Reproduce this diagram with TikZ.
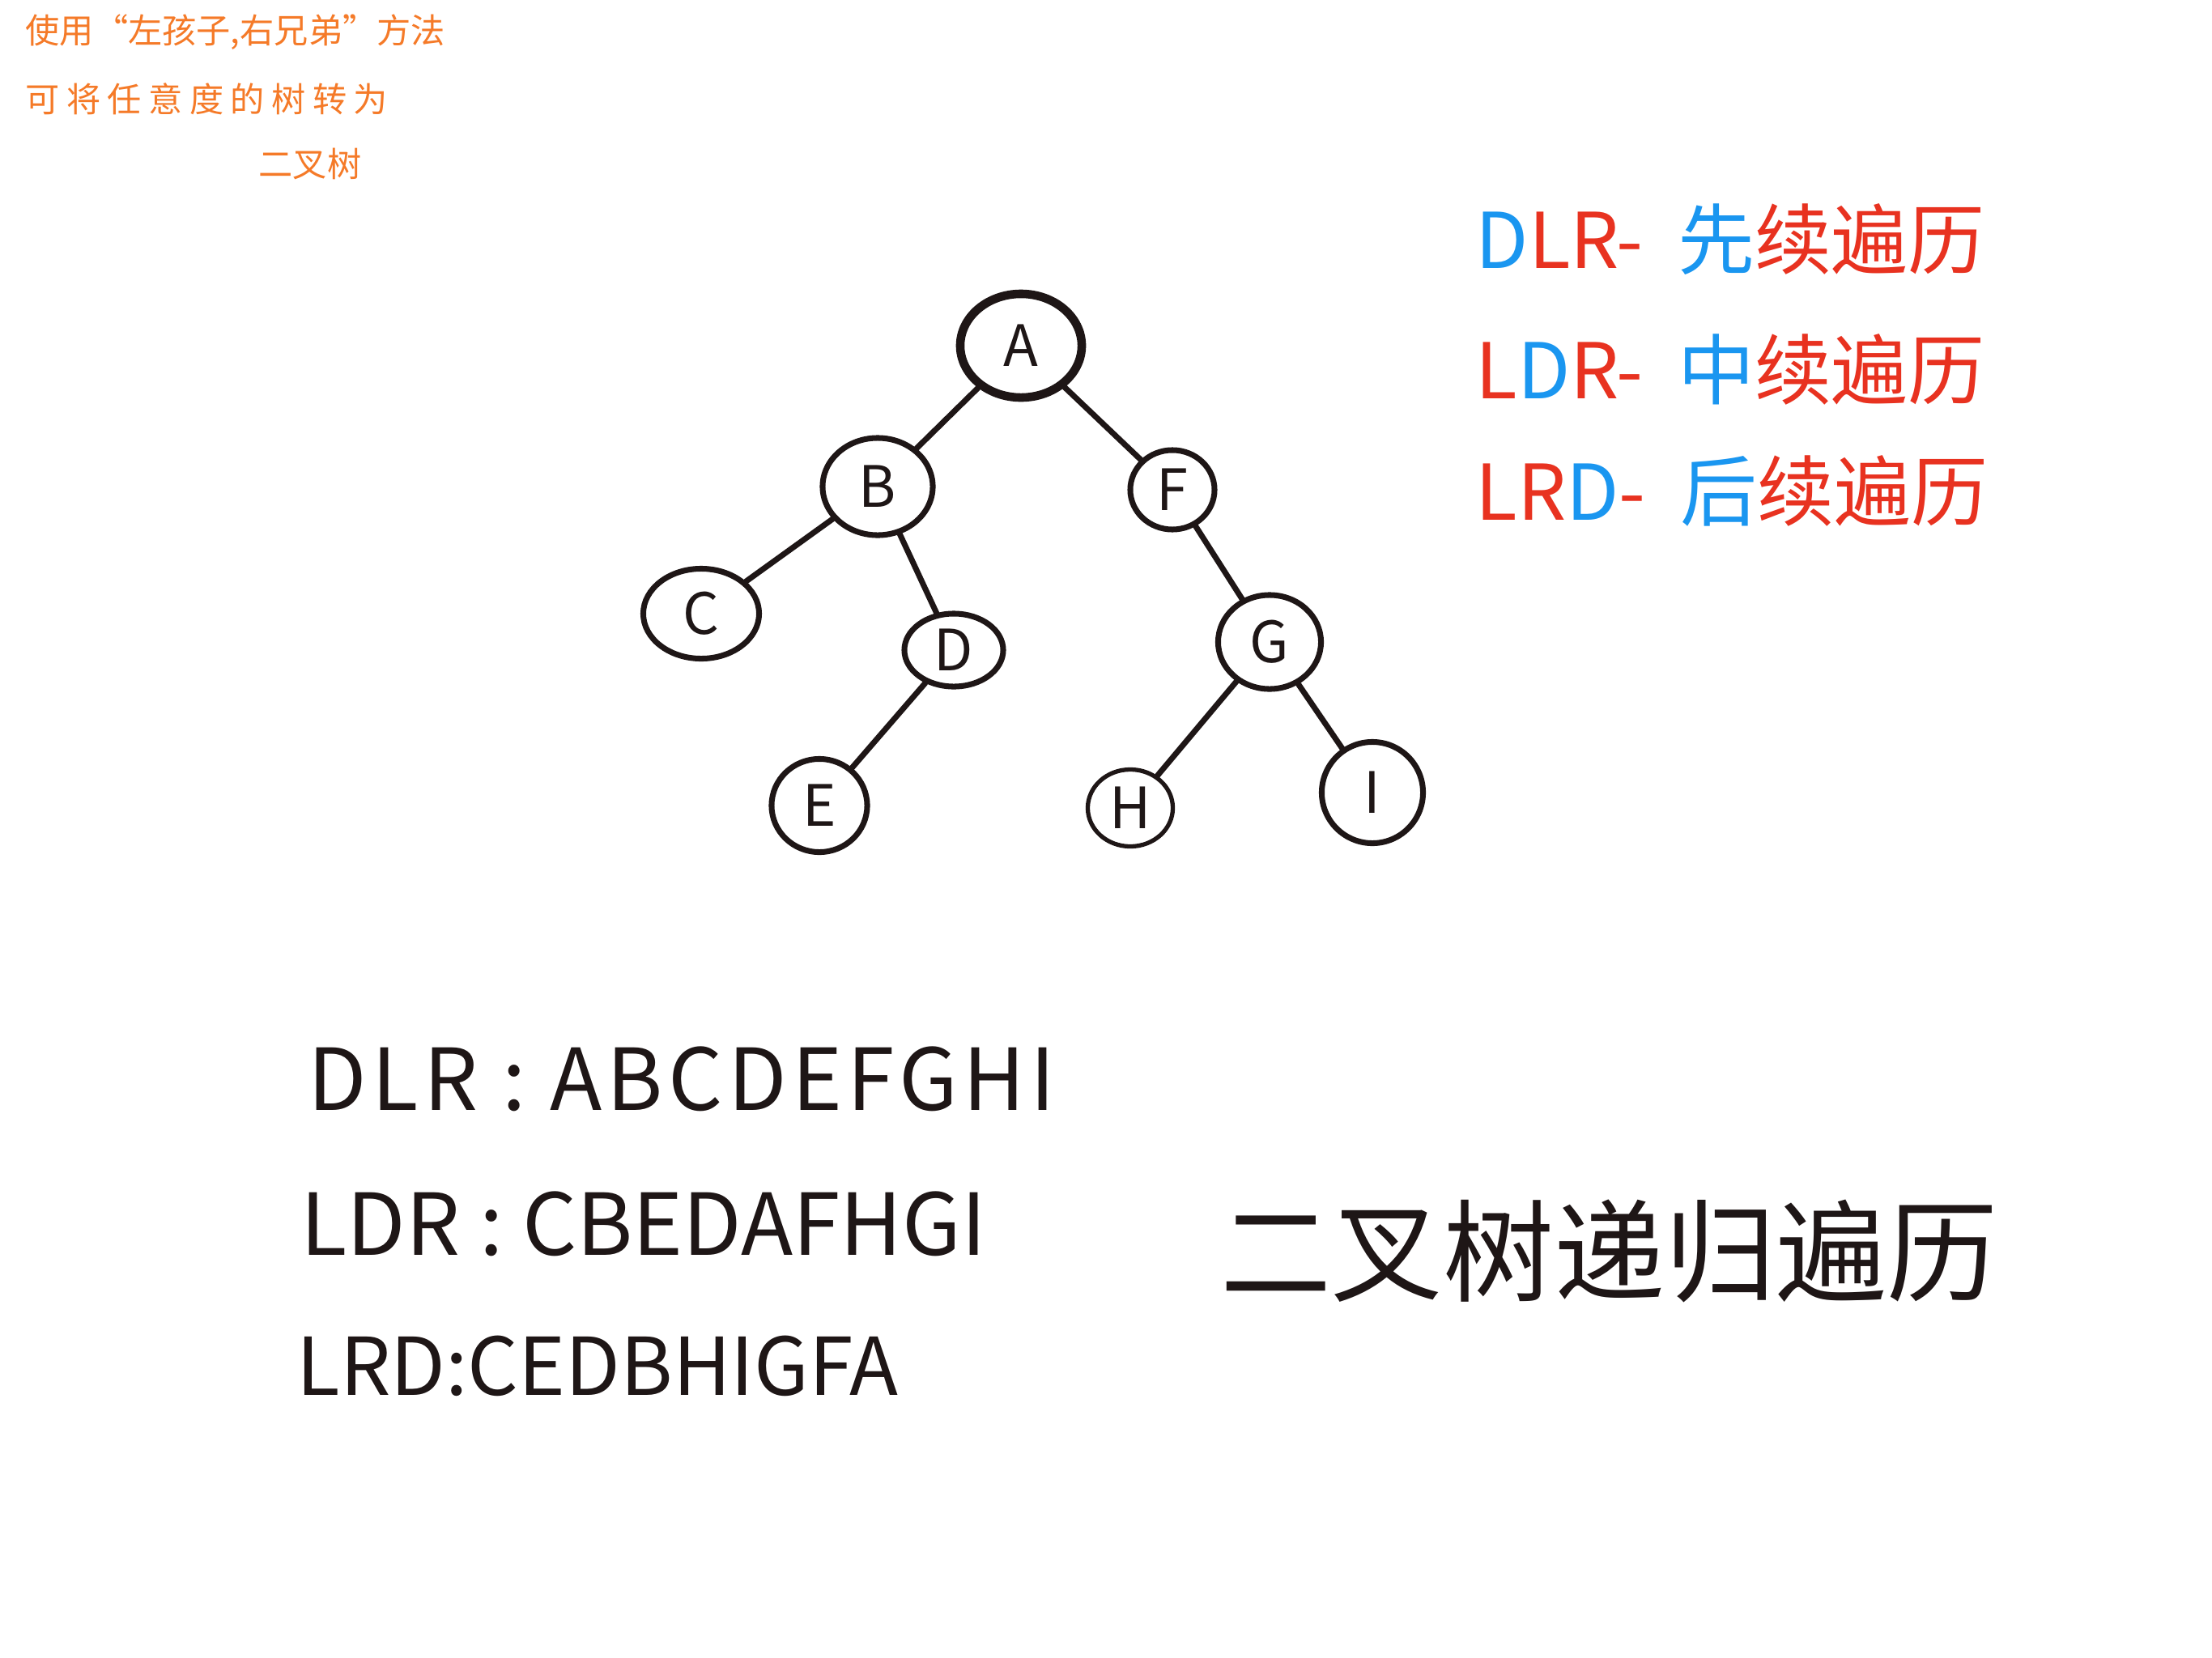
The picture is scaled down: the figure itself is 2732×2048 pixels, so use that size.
\documentclass[tikz,border=0pt]{standalone}
\usepackage{fontspec}
\setmainfont{Noto Sans CJK SC}
\usepackage{tikz}
\usetikzlibrary{shapes.geometric,positioning}

\definecolor{ink}{RGB}{30,22,22}
\definecolor{penorange}{RGB}{245,122,40}
\definecolor{penblue}{RGB}{26,150,240}
\definecolor{penred}{RGB}{232,50,32}

\begin{document}
\begin{tikzpicture}[
    x=0.01cm, y=-0.01cm,
    vertex/.style={draw=ink, ellipse, line width=2pt, inner sep=0pt, text=ink, font=\fontsize{20}{20}\selectfont},
    edge/.style={draw=ink, line width=2pt, line cap=round},
    note/.style={text=penorange, anchor=west, inner sep=0pt, font=\fontsize{12}{12}\selectfont},
    order/.style={anchor=west, inner sep=0pt, font=\fontsize{27}{27}\selectfont},
    walk/.style={text=ink, anchor=west, inner sep=0pt, font=\fontsize{30}{30}\selectfont}
]
    \useasboundingbox[fill=white] (0,0) rectangle (2732,2048);

    % note in the top left corner
    \node[note] (note1) at (31,40) {使用“左孩子,右兄弟”方法};
    \node[note, font=\fontsize{12}{12}\selectfont\addfontfeature{LetterSpace=20}] (note2) at (31,122) {可将任意度的树转为};
    \node[note] (note3) at (319,202) {二叉树};

    % the tree
    \node[vertex, line width=3pt, minimum width=1.5cm, minimum height=1.28cm] (a) at (1261,427) {A};
    \node[vertex, minimum width=1.36cm, minimum height=1.2cm] (b) at (1084,601) {B};
    \node[vertex, minimum width=1.04cm, minimum height=0.98cm] (f) at (1448,605) {F};
    \node[vertex, minimum width=1.43cm, minimum height=1.11cm] (c) at (866,758) {C};
    \node[vertex, minimum width=1.22cm, minimum height=0.9cm] (d) at (1178,803) {D};
    \node[vertex, minimum width=1.27cm, minimum height=1.16cm] (g) at (1568,793) {G};
    \node[vertex, minimum width=1.18cm, minimum height=1.15cm] (e) at (1012,995) {E};
    \node[vertex, line width=1.5pt, minimum width=1.05cm, minimum height=0.95cm] (h) at (1396,998) {H};
    \node[vertex, minimum width=1.25cm, minimum height=1.25cm] (i) at (1695,979) {I};

    \draw[edge] (a) -- (b);
    \draw[edge] (a) -- (f);
    \draw[edge] (b) -- (c);
    \draw[edge] (b) -- (d);
    \draw[edge] (d) -- (e);
    \draw[edge] (f) -- (g);
    \draw[edge] (g) -- (h);
    \draw[edge] (g) -- (i);

    % traversal names
    \node[order] (dlr) at (1822,296) {\color{penblue}D\color{penred}LR-~ \color{penblue}先\color{penred}续遍历};
    \node[order] (ldr) at (1822,456) {\color{penred}L\color{penblue}D\color{penred}R-~ \color{penblue}中\color{penred}续遍历};
    \node[order] (lrd) at (1822,606) {\color{penred}LR\color{penblue}D\color{penred}-~ \color{penblue}后\color{penred}续遍历};

    % traversal results
    \node[walk, font=\fontsize{30}{30}\selectfont\addfontfeature{LetterSpace=6}] (dlrwalk) at (380,1333) {DLR : ABCDEFGHI};
    \node[walk] (ldrwalk) at (371,1512) {LDR : CBEDAFHGI};
    \node[walk, font=\fontsize{28}{28}\selectfont] (lrdwalk) at (366,1687) {LRD:CEDBHIGFA};

    \node[text=ink, anchor=west, inner sep=0pt, font=\fontsize{39}{39}\selectfont] (title) at (1507,1545) {二叉树递归遍历};
\end{tikzpicture}
\end{document}
